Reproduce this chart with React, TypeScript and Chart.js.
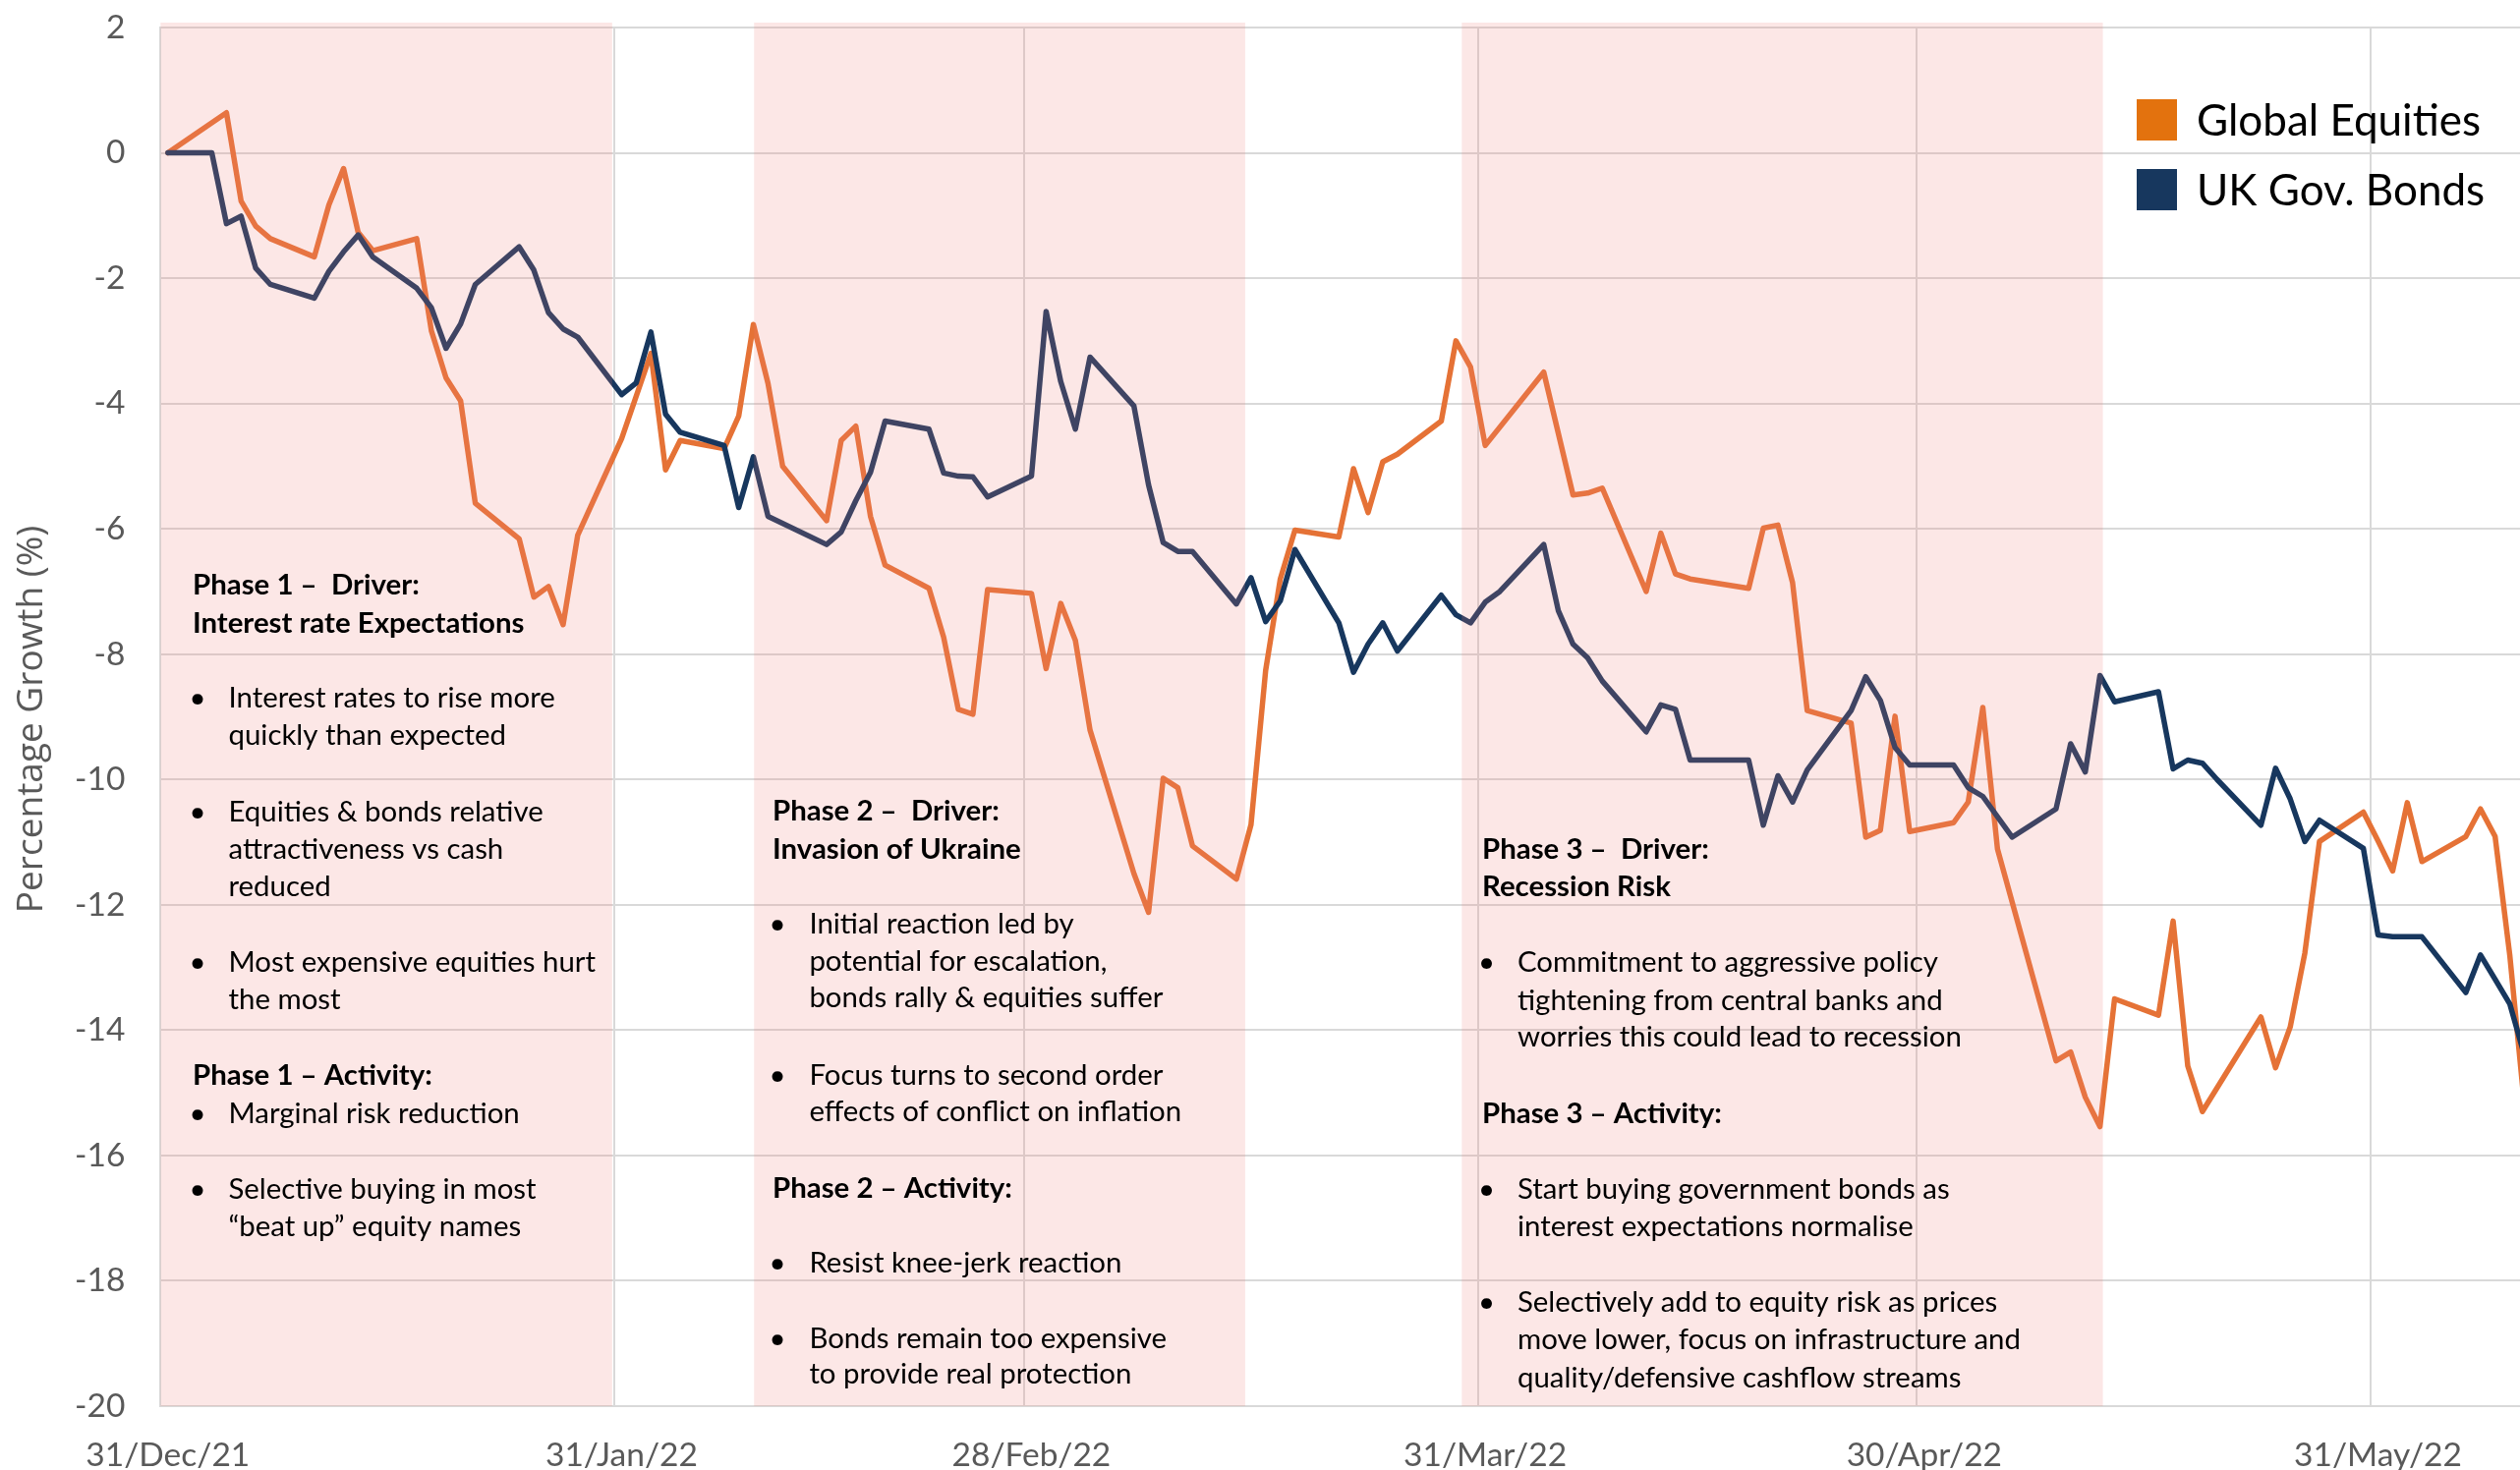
import React, { useEffect, useRef } from "react";
import { Chart, registerables } from "chart.js";

Chart.register(...registerables);

const W = 2564;
const H = 1496;

// ---------------- DATA ----------------
const equityDates = [
  "2021-12-31",
  "2022-01-04", "2022-01-05", "2022-01-06", "2022-01-07",
  "2022-01-10", "2022-01-11", "2022-01-12", "2022-01-13", "2022-01-14",
  "2022-01-17", "2022-01-18", "2022-01-19", "2022-01-20", "2022-01-21",
  "2022-01-24", "2022-01-25", "2022-01-26", "2022-01-27", "2022-01-28",
  "2022-01-31",
  "2022-02-02", "2022-02-03", "2022-02-04",
  "2022-02-07", "2022-02-08", "2022-02-09", "2022-02-10", "2022-02-11",
  "2022-02-14", "2022-02-15", "2022-02-16", "2022-02-17", "2022-02-18",
  "2022-02-21", "2022-02-22", "2022-02-23", "2022-02-24", "2022-02-25",
  "2022-02-28",
  "2022-03-01", "2022-03-02", "2022-03-03", "2022-03-04",
  "2022-03-07", "2022-03-08", "2022-03-09", "2022-03-10", "2022-03-11",
  "2022-03-14", "2022-03-15", "2022-03-16", "2022-03-17", "2022-03-18",
  "2022-03-21", "2022-03-22", "2022-03-23", "2022-03-24", "2022-03-25",
  "2022-03-28", "2022-03-29", "2022-03-30", "2022-03-31",
  "2022-04-04",
  "2022-04-06", "2022-04-07", "2022-04-08",
  "2022-04-11", "2022-04-12", "2022-04-13", "2022-04-14",
  "2022-04-18", "2022-04-19", "2022-04-20", "2022-04-21", "2022-04-22",
  "2022-04-25", "2022-04-26", "2022-04-27", "2022-04-28", "2022-04-29",
  "2022-05-02", "2022-05-03", "2022-05-04", "2022-05-05",
  "2022-05-09", "2022-05-10", "2022-05-11", "2022-05-12", "2022-05-13",
  "2022-05-16", "2022-05-17", "2022-05-18", "2022-05-19",
  "2022-05-23", "2022-05-24", "2022-05-25", "2022-05-26", "2022-05-27",
  "2022-05-30", "2022-05-31",
  "2022-06-01", "2022-06-02", "2022-06-03",
  "2022-06-06", "2022-06-07", "2022-06-08", "2022-06-09", "2022-06-10",
];
const equityValues = [
  0,
  0.64, -0.77, -1.17, -1.37,
  -1.66, -0.83, -0.25, -1.27, -1.56,
  -1.37, -2.84, -3.59, -3.96, -5.59,
  -6.16, -7.09, -6.92, -7.53, -6.1,
  -4.56,
  -3.2, -5.06, -4.59,
  -4.72, -4.2, -2.74, -3.68, -5.0,
  -5.87, -4.59, -4.36, -5.8, -6.58,
  -6.95, -7.73, -8.88, -8.96, -6.97,
  -7.03,
  -8.23, -7.19, -7.78, -9.21,
  -11.5, -12.12, -9.98, -10.13, -11.06,
  -11.59, -10.72, -8.26, -6.8, -6.02,
  -6.13, -5.04, -5.74, -4.93, -4.81,
  -4.28, -3.0, -3.42, -4.67,
  -3.5,
  -5.46, -5.43, -5.35,
  -7.0, -6.07, -6.72, -6.8,
  -6.95, -5.99, -5.94, -6.86, -8.9,
  -9.1, -10.92, -10.81, -8.99, -10.83,
  -10.69, -10.36, -8.85, -11.11,
  -14.49, -14.35, -15.07, -15.54, -13.5,
  -13.76, -12.26, -14.57, -15.3,
  -13.79, -14.6, -13.95, -12.77, -10.99,
  -10.52, -10.98,
  -11.46, -10.37, -11.31,
  -10.91, -10.47, -10.91, -12.8, -15.2,
];

const bondDates = [
  "2021-12-31", "2022-01-03",
  "2022-01-04", "2022-01-05", "2022-01-06", "2022-01-07",
  "2022-01-10", "2022-01-11", "2022-01-12", "2022-01-13", "2022-01-14",
  "2022-01-17", "2022-01-18", "2022-01-19", "2022-01-20", "2022-01-21",
  "2022-01-24", "2022-01-25", "2022-01-26", "2022-01-27", "2022-01-28",
  "2022-01-31",
  "2022-02-01", "2022-02-02", "2022-02-03", "2022-02-04",
  "2022-02-07", "2022-02-08", "2022-02-09", "2022-02-10",
  "2022-02-14", "2022-02-15", "2022-02-16", "2022-02-17", "2022-02-18",
  "2022-02-21", "2022-02-22", "2022-02-23", "2022-02-24", "2022-02-25",
  "2022-02-28",
  "2022-03-01", "2022-03-02", "2022-03-03", "2022-03-04",
  "2022-03-07", "2022-03-08", "2022-03-09", "2022-03-10", "2022-03-11",
  "2022-03-14", "2022-03-15", "2022-03-16", "2022-03-17", "2022-03-18",
  "2022-03-21", "2022-03-22", "2022-03-23", "2022-03-24", "2022-03-25",
  "2022-03-28", "2022-03-29", "2022-03-30", "2022-03-31",
  "2022-04-01",
  "2022-04-04", "2022-04-05", "2022-04-06", "2022-04-07", "2022-04-08",
  "2022-04-11", "2022-04-12", "2022-04-13", "2022-04-14",
  "2022-04-18", "2022-04-19", "2022-04-20", "2022-04-21", "2022-04-22",
  "2022-04-25", "2022-04-26", "2022-04-27", "2022-04-28", "2022-04-29",
  "2022-05-02", "2022-05-03", "2022-05-04", "2022-05-06",
  "2022-05-09", "2022-05-10", "2022-05-11", "2022-05-12", "2022-05-13",
  "2022-05-16", "2022-05-17", "2022-05-18", "2022-05-19", "2022-05-20",
  "2022-05-23", "2022-05-24", "2022-05-25", "2022-05-26", "2022-05-27",
  "2022-05-30", "2022-05-31",
  "2022-06-01", "2022-06-03",
  "2022-06-06", "2022-06-07", "2022-06-08", "2022-06-09", "2022-06-10",
];
const bondValues = [
  0, 0,
  -1.13, -1.01, -1.84, -2.1,
  -2.32, -1.89, -1.58, -1.31, -1.66,
  -2.16, -2.47, -3.12, -2.73, -2.1,
  -1.5, -1.87, -2.55, -2.81, -2.94,
  -3.86,
  -3.67, -2.86, -4.17, -4.46,
  -4.67, -5.66, -4.85, -5.8,
  -6.25, -6.05, -5.55, -5.1, -4.28,
  -4.41, -5.11, -5.16, -5.17, -5.49,
  -5.16,
  -2.53, -3.65, -4.41, -3.26,
  -4.04, -5.3, -6.22, -6.36, -6.36,
  -7.2, -6.78, -7.48, -7.15, -6.33,
  -7.5, -8.29, -7.84, -7.5, -7.95,
  -7.06, -7.37, -7.5, -7.17,
  -7.0,
  -6.25, -7.31, -7.84, -8.06, -8.43,
  -9.24, -8.81, -8.88, -9.69,
  -9.69, -10.73, -9.94, -10.36, -9.85,
  -8.9, -8.36, -8.74, -9.49, -9.77,
  -9.77, -10.13, -10.27, -10.92,
  -10.47, -9.43, -9.88, -8.34, -8.76,
  -8.6, -9.83, -9.69, -9.74, -10.0,
  -10.73, -9.82, -10.31, -10.99, -10.65,
  -11.1, -12.48,
  -12.51, -12.51,
  -13.4, -12.8, -13.19, -13.58, -14.4,
];

const seriesNames = ["Global Equities", "UK Gov. Bonds"];

const xTickDates = ["2021-12-31", "2022-01-31", "2022-02-28", "2022-03-31", "2022-04-30", "2022-05-31"];
const xTickLabels = ["31/Dec/21", "31/Jan/22", "28/Feb/22", "31/Mar/22", "30/Apr/22", "31/May/22"];

// shaded phase periods, in days since 31/Dec/21
const phaseBandStarts = [0, 40.55, 88.9];
const phaseBandEnds = [30.85, 74.1, 132.7];

const phase1Notes = [
  ["h", "Phase 1 \u2013  Driver:"],
  ["h", "Interest rate Expectations"],
  ["b", "Interest rates to rise more"],
  ["c", "quickly than expected"],
  ["b", "Equities & bonds relative"],
  ["c", "attractiveness vs cash"],
  ["c", "reduced"],
  ["b", "Most expensive equities hurt"],
  ["c", "the most"],
  ["h", "Phase 1 \u2013 Activity:"],
  ["b", "Marginal risk reduction"],
  ["b", "Selective buying in most"],
  ["c", "\u201Cbeat up\u201D equity names"],
];
const phase2Notes = [
  ["h", "Phase 2 \u2013  Driver:"],
  ["h", "Invasion of Ukraine"],
  ["b", "Initial reaction led by"],
  ["c", "potential for escalation,"],
  ["c", "bonds rally & equities suffer"],
  ["b", "Focus turns to second order"],
  ["c", "effects of conflict on inflation"],
  ["h", "Phase 2 \u2013 Activity:"],
  ["b", "Resist knee-jerk reaction"],
  ["b", "Bonds remain too expensive"],
  ["c", "to provide real protection"],
];
const phase3Notes = [
  ["h", "Phase 3 \u2013  Driver:"],
  ["h", "Recession Risk"],
  ["b", "Commitment to aggressive policy"],
  ["c", "tightening from central banks and"],
  ["c", "worries this could lead to recession"],
  ["h", "Phase 3 \u2013 Activity:"],
  ["b", "Start buying government bonds as"],
  ["c", "interest expectations normalise"],
  ["b", "Selectively add to equity risk as prices"],
  ["c", "move lower, focus on infrastructure and"],
  ["c", "quality/defensive cashflow streams"],
];

// ---------------- LAYOUT / STYLE ----------------
const NOTE_LAYOUT = [
  { notes: phase1Notes, hx: 196, bx: 201, tx: 232.5, ys: [595, 634, 710, 748, 826, 864, 902, 979, 1017, 1094, 1133, 1210, 1248] },
  { notes: phase2Notes, hx: 786, bx: 791, tx: 823.4, ys: [825, 864, 940, 978, 1015, 1094, 1131, 1209, 1285, 1362, 1398] },
  { notes: phase3Notes, hx: 1508, bx: 1512.5, tx: 1544, ys: [864, 902, 979, 1018, 1055, 1133, 1210, 1248, 1325, 1363, 1402] },
];

const ORANGE_LINE = "#E57236";
const NAVY_LINE = "#17375E";
const ORANGE_KEY = "#E3720E";
const NAVY_KEY = "#17375E";
const GRID = "#D9D9D9";
const AXIS_TEXT = "#595959";
const MAIN_FONT = "Lato";

const dayOffset = (iso: string) => {
  const [y, m, d] = iso.split("-").map(Number);
  return (Date.UTC(y, m - 1, d) - Date.UTC(2021, 11, 31)) / 86400000;
};

export default function App() {
  const ref = useRef<HTMLCanvasElement | null>(null);

  useEffect(() => {
    const canvas = ref.current;
    if (!canvas) return;

    const toPoints = (dates: string[], vals: number[]) =>
      dates.map((d, i) => ({ x: dayOffset(d) + 0.5, y: vals[i] }));

    const overlayPlugin = {
      id: "phaseOverlay",
      afterDatasetsDraw(chart: any) {
        const { ctx, chartArea, scales } = chart;
        const xs = scales.x;
        ctx.save();
        ctx.fillStyle = "rgba(239,129,123,0.19)";
        phaseBandStarts.forEach((s, i) => {
          const x0 = xs.getPixelForValue(s);
          const x1 = xs.getPixelForValue(phaseBandEnds[i]);
          ctx.fillRect(x0, chartArea.top - 5, x1 - x0, chartArea.bottom - chartArea.top + 5);
        });
        ctx.restore();
      },
      afterDraw(chart: any) {
        const ctx = chart.ctx as CanvasRenderingContext2D;
        ctx.save();
        // phase annotations
        ctx.fillStyle = "#000000";
        ctx.textBaseline = "alphabetic";
        NOTE_LAYOUT.forEach((blk) => {
          blk.notes.forEach((ln, i) => {
            const kind = ln[0];
            const txt = ln[1];
            const y = blk.ys[i] + 10;
            if (kind === "h") {
              ctx.font = `bold 29.4px ${MAIN_FONT}`;
              ctx.textAlign = "left";
              ctx.fillText(txt, blk.hx, y);
            } else {
              ctx.font = `29.4px ${MAIN_FONT}`;
              if (kind === "b") {
                ctx.textAlign = "center";
                ctx.fillText("\u2022", blk.bx, y);
              }
              ctx.textAlign = "left";
              ctx.fillText(txt, blk.tx, y);
            }
          });
        });

        // legend
        const keys = [ORANGE_KEY, NAVY_KEY];
        const keyTops = [101, 172];
        ctx.font = `44px ${MAIN_FONT}`;
        ctx.textAlign = "left";
        ctx.textBaseline = "alphabetic";
        seriesNames.forEach((name, i) => {
          ctx.fillStyle = keys[i];
          ctx.fillRect(2174, keyTops[i], 41, 42);
          ctx.fillStyle = "#000000";
          ctx.fillText(name, 2235, keyTops[i] + 21 + 16);
        });

        // y axis title
        ctx.translate(42.5, 732);
        ctx.rotate(-Math.PI / 2);
        ctx.font = `37px "Open Sans"`;
        ctx.fillStyle = AXIS_TEXT;
        ctx.textAlign = "center";
        ctx.textBaseline = "alphabetic";
        ctx.fillText("Percentage Growth (%)", 0, 0);
        ctx.restore();
      },
    };

    const chart = new Chart(canvas, {
      type: "line",
      data: {
        datasets: [
          {
            label: seriesNames[0],
            data: toPoints(equityDates, equityValues),
            borderColor: ORANGE_LINE,
            backgroundColor: ORANGE_LINE,
            borderWidth: 5.5,
            pointRadius: 0,
            tension: 0,
            fill: false,
            borderJoinStyle: "round",
            borderCapStyle: "round",
            order: 1,
          },
          {
            label: seriesNames[1],
            data: toPoints(bondDates, bondValues),
            borderColor: NAVY_LINE,
            backgroundColor: NAVY_LINE,
            borderWidth: 5.5,
            pointRadius: 0,
            tension: 0,
            fill: false,
            borderJoinStyle: "round",
            borderCapStyle: "round",
            order: 0,
          },
        ],
      },
      options: {
        responsive: false,
        animation: false,
        devicePixelRatio: 1,
        layout: { padding: { top: 28, left: 0, right: 0, bottom: 0 } },
        plugins: {
          legend: { display: false },
          tooltip: { enabled: false },
        },
        scales: {
          x: {
            type: "linear",
            min: 0,
            max: 161.2,
            afterBuildTicks: (axis: any) => {
              axis.ticks = xTickDates.map((d) => ({ value: dayOffset(d) }));
            },
            afterFit: (s: any) => {
              s.height = 65;
              s.paddingLeft = 0;
              s.paddingRight = 0;
            },
            ticks: {
              autoSkip: false,
              maxRotation: 0,
              minRotation: 0,
              labelOffset: 7.4,
              padding: 30,
              color: AXIS_TEXT,
              font: { family: MAIN_FONT, size: 33.5 },
              callback: (_v: any, i: number) => xTickLabels[i],
            },
            grid: { color: GRID, lineWidth: 2, drawTicks: false },
            border: { display: true, color: GRID, width: 2 },
          },
          y: {
            min: -20,
            max: 2,
            afterFit: (s: any) => {
              s.width = 163.4;
              s.paddingTop = 0;
              s.paddingBottom = 0;
            },
            ticks: {
              stepSize: 2,
              padding: 36,
              color: AXIS_TEXT,
              font: { family: MAIN_FONT, size: 33.5 },
            },
            grid: { color: GRID, lineWidth: 2, drawTicks: false },
            border: { display: true, color: GRID, width: 2 },
          },
        },
      },
      plugins: [overlayPlugin],
    } as any);

    return () => chart.destroy();
  }, []);

  return (
    <div style={{ position: "absolute", left: 0, top: 0, width: W, height: H, background: "#ffffff" }}>
      <canvas ref={ref} width={W} height={H} style={{ display: "block", width: W, height: H }} />
    </div>
  );
}
